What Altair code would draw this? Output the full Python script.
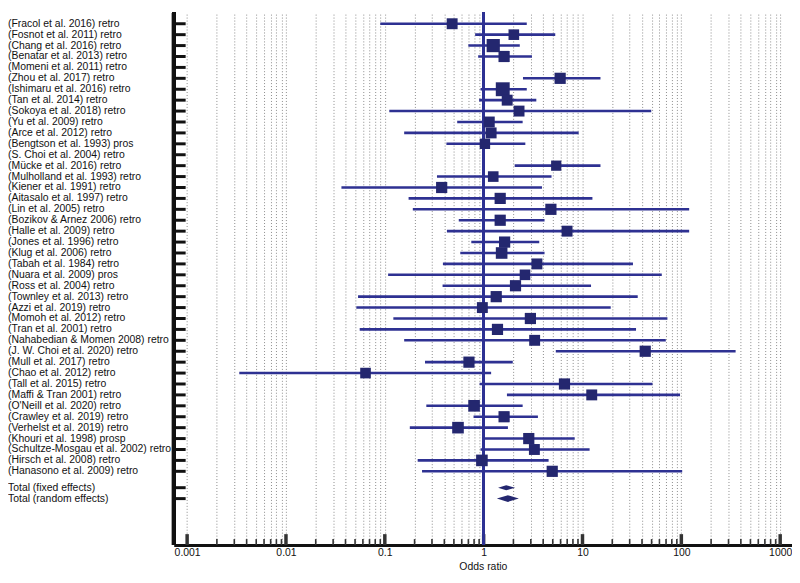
import altair as alt
import pandas as pd
import numpy as np

studies = [
    "(Fracol et al. 2016) retro", "(Fosnot et al. 2011) retro", "(Chang et al. 2016) retro",
    "(Benatar et al. 2013) retro", "(Momeni et al. 2011) retro", "(Zhou et al. 2017) retro",
    "(Ishimaru et al. 2016) retro", "(Tan et al. 2014) retro", "(Sokoya et al. 2018) retro",
    "(Yu et al. 2009) retro", "(Arce et al. 2012) retro", "(Bengtson et al. 1993) pros",
    "(S. Choi et al. 2004) retro", "(Mücke et al. 2016) retro", "(Mulholland et al. 1993) retro",
    "(Kiener et al. 1991) retro", "(Aitasalo et al. 1997) retro", "(Lin et al. 2005) retro",
    "(Bozikov & Arnez 2006) retro", "(Halle et al. 2009) retro", "(Jones et al. 1996) retro",
    "(Klug et al. 2006) retro", "(Tabah et al. 1984) retro", "(Nuara et al. 2009) pros",
    "(Ross et al. 2004) retro", "(Townley et al. 2013) retro", "(Azzi et al. 2019) retro",
    "(Momoh et al. 2012) retro", "(Tran et al. 2001) retro", "(Nahabedian & Momen 2008) retro",
    "(J. W. Choi et al. 2020) retro", "(Mull et al. 2017) retro", "(Chao et al. 2012) retro",
    "(Tall et al. 2015) retro", "(Maffi & Tran 2001) retro", "(O'Neill et al. 2020) retro",
    "(Crawley et al. 2019) retro", "(Verhelst et al. 2019) retro", "(Khouri et al. 1998) prosp",
    "(Schultze-Mosgau et al. 2002) retro", "(Hirsch et al. 2008) retro", "(Hanasono et al. 2009) retro",
]
odds = [0.48, 2.02, 1.25, 1.61, None, 5.94, 1.56, 1.73, 2.28, 1.14, 1.19, 1.03,
        None, 5.42, 1.25, 0.376, 1.47, 4.79, 1.47, 6.98, 1.63, 1.52, 3.46, 2.62,
        2.10, 1.34, 0.97, 2.97, 1.38, 3.28, 43.1, 0.71, 0.0638, 6.57, 12.4, 0.80,
        1.61, 0.55, 2.86, 3.26, 0.96, 4.94]
lower = [0.09, 0.82, 0.70, 0.88, None, 2.50, 0.93, 0.90, 0.111, 0.54, 0.157, 0.42,
         None, 2.06, 0.337, 0.0364, 0.174, 0.192, 0.56, 0.425, 0.75, 0.58, 0.387, 0.108,
         0.384, 0.0536, 0.0515, 0.122, 0.0557, 0.157, 5.37, 0.255, 0.00337, 0.91, 1.72, 0.263,
         0.79, 0.179, 1.03, 0.93, 0.215, 0.238]
upper = [2.73, 5.3, 2.32, 3.08, None, 15.2, 2.73, 3.41, 49.6, 2.48, 9.15, 2.64,
         None, 15.2, 4.86, 3.89, 12.6, 120.0, 4.13, 120.0, 3.65, 4.13, 32.4, 63.4,
         12.2, 36.2, 19.3, 72.3, 34.8, 69.6, 354.0, 1.97, 1.19, 51.1, 97.0, 2.48,
         3.54, 1.76, 8.34, 11.8, 4.54, 102.0]
weights = [2.42, 2.29, 3.54, 2.55, None, 2.55, 3.92, 2.42, 2.42, 2.42, 2.42, 2.2,
           None, 2.12, 2.29, 2.55, 2.55, 2.55, 2.55, 2.42, 2.55, 2.74, 2.42, 2.29,
           2.55, 2.55, 2.42, 2.55, 2.55, 2.42, 2.55, 2.55, 2.29, 2.55, 2.42, 2.74,
           2.55, 2.74, 2.55, 2.42, 2.74, 2.55]

total_labels = ["Total (fixed effects)", "Total (random effects)"]
total_or = [1.69, 1.76]
total_lo = [1.40, 1.36]
total_hi = [2.08, 2.27]

tick_decades = [0.001, 0.01, 0.1, 1, 10, 100, 1000]

# ---------- layout / style ----------
W, H = 623, 537
ROW_TOP = 11.7
ROW_STEP = 11.0
FONT = "Liberation Sans"
LINE_C = "#2e3192"
BOX_C = "#24276f"
half_h = [0.23, 0.3]

n = len(studies)
rows = list(range(n))
total_rows = [n + 0.5 + k for k in range(len(total_labels))]

study_df = pd.DataFrame({"label": studies, "row": rows, "or": odds, "lo": lower,
                         "hi": upper, "w": weights})
est_df = study_df.dropna().reset_index(drop=True)

label_df = pd.DataFrame({"label": studies + total_labels, "row": rows + total_rows})

dia_records = []
for lab, r, e, lo, hi, hh in zip(total_labels, total_rows, total_or, total_lo, total_hi, half_h):
    dia_records += [
        {"label": lab, "x": lo, "yt": r, "yb": r},
        {"label": lab, "x": e, "yt": r - hh, "yb": r + hh},
        {"label": lab, "x": hi, "yt": r, "yb": r},
    ]
dia_df = pd.DataFrame(dia_records)

grid_vals = []
for d in tick_decades[:-1]:
    for m in range(1, 10):
        grid_vals.append(round(m * d, 6))
grid_vals.append(tick_decades[-1])
tick_df = pd.DataFrame({"v": grid_vals,
                        "major": [v in tick_decades for v in grid_vals]})

lmin, lmax = -3.1355, 3.1195
xscale = alt.Scale(type="log", domain=[10 ** lmin, 10 ** lmax], nice=False)
ytop = -ROW_TOP / ROW_STEP
ybot = (H - ROW_TOP) / ROW_STEP
yscale = alt.Scale(domain=[ytop, ybot], reverse=True, nice=False, zero=False)

xaxis = alt.Axis(
    values=grid_vals, grid=True, gridDash=[1, 2], gridColor="#8c8c8c", gridWidth=1,
    ticks=False, tickSize=0, domain=True, domainColor="#111111", domainWidth=3,
    labelExpr="abs(log(datum.value)/LN10 - round(log(datum.value)/LN10)) < 0.001 ? format(datum.value, '~g') : ''",
    labelFont=FONT, labelFontSize=10.5, labelColor="#111111", labelPadding=3,
    labelFlush=False, labelOverlap=False,
    title="Odds ratio", titleFont=FONT, titleFontSize=10.5, titleFontWeight="normal",
    titleColor="#111111", titlePadding=3,
)

def X(field):
    return alt.X(field, type="quantitative", scale=xscale, axis=xaxis)

def Y(field):
    return alt.Y(field, type="quantitative", scale=yscale, axis=None)

grid_layer = alt.Chart(tick_df).mark_rule(opacity=0).encode(x=X("v"))

minor_ticks = alt.Chart(tick_df).transform_filter("!datum.major").mark_rule(
    color="#333333", strokeWidth=1.6).encode(
    x=X("v"), y=alt.value(H), y2=alt.value(H - 6))
major_ticks = alt.Chart(tick_df).transform_filter("datum.major").mark_rule(
    color="#333333", strokeWidth=3.5).encode(
    x=X("v"), y=alt.value(H), y2=alt.value(H - 11))

ref_line = alt.Chart(tick_df).mark_rule(color=LINE_C, strokeWidth=1.6).encode(
    x=alt.datum(1), y=alt.value(0), y2=alt.value(H))

ci = alt.Chart(est_df).mark_rule(color=LINE_C, strokeWidth=2.6).encode(
    x=X("lo"), x2="hi", y=Y("row"))

boxes = alt.Chart(est_df).mark_point(shape="square", filled=True, opacity=1,
                                     color=BOX_C, strokeWidth=0).encode(
    x=X("or"), y=Y("row"),
    size=alt.Size("w", type="quantitative",
                  scale=alt.Scale(domain=[0, 4], range=[0, 200]), legend=None))

diamonds = alt.Chart(dia_df).mark_area(color=BOX_C, opacity=1).encode(
    x=X("x"), y=Y("yt"), y2="yb", detail="label")

row_ticks = alt.Chart(label_df).mark_rule(color="#111111", strokeWidth=3).encode(
    x=alt.value(0), x2=alt.value(12), y=Y("row"))

left_axis = alt.Chart(label_df).mark_rule(color="#111111", strokeWidth=3.5).encode(
    x=alt.value(0), y=alt.value(0), y2=alt.value(H))

labels = alt.Chart(label_df).mark_text(align="left", baseline="middle", font=FONT,
                                       fontSize=10.5, color="#111111").encode(
    x=alt.value(-167), y=Y("row"), text="label")

chart = alt.layer(
    grid_layer, minor_ticks, major_ticks, ref_line, ci, boxes, diamonds,
    row_ticks, left_axis, labels
).properties(width=W, height=H, padding=0).configure_view(stroke=None)

chart.save("out.html", embed_options={"renderer": "svg", "actions": False})
